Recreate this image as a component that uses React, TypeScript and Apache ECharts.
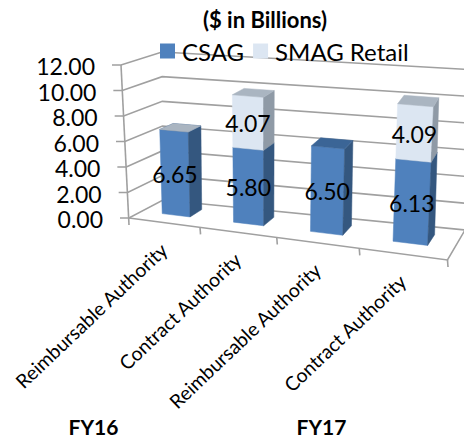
import React, { useEffect, useRef } from "react";
import * as echarts from "echarts";

const categories = ["Reimbursable Authority", "Contract Authority", "Reimbursable Authority", "Contract Authority"];
const csagValues: number[] = [6.65, 5.8, 6.5, 6.13];
const smagValues: (number | null)[] = [0, 4.07, null, 4.09];
const yTicks = [0, 2, 4, 6, 8, 10, 12];
const groupLabels = ["FY16", "FY17"];
const TITLE = "($ in Billions)";
const FONT = "Lato, 'Noto Sans', sans-serif";

// hidden grid that supplies the scales
const GL = 100, GT = 50, GW = 300, GH = 200;
type P = [number, number];
function quad(p0: P, p1: P, p2: P, p3: P) {
  return (u: number, w: number): P => {
    const f = u * (0.856 + 0.144 * u);
    const l: P = [p0[0] + (p3[0] - p0[0]) * w, p0[1] + (p3[1] - p0[1]) * w];
    const r: P = [p1[0] + (p2[0] - p1[0]) * w, p1[1] + (p2[1] - p1[1]) * w];
    return [l[0] + (r[0] - l[0]) * f, l[1] + (r[1] - l[1]) * f];
  };
}
const floorH = quad([129, 218], [447.5, 260], [465, 230], [163, 200]);
const topH = quad([121, 65], [458, 94], [469, 69.5], [162, 52]);
const project = (u: number, v: number, w: number): P => {
  const a = floorH(u, w), b = topH(u, w);
  return [a[0] + (b[0] - a[0]) * v, a[1] + (b[1] - a[1]) * v];
};
const toUV = (px: number[]) => [(px[0] - GL) / GW, (GT + GH - px[1]) / GH];

const BAR_W = 0.05;
const W0 = 0.38, W1 = 0.75;
const GRID = "#a0a0a0";

function barItem(colors: { front: string; side: string; top: string }) {
  return (_: any, api: any) => {
    const i = api.value(0), s = api.value(1), e = api.value(2);
    const u = toUV(api.coord([i, s]))[0];
    const v0 = toUV(api.coord([i, s]))[1], v1 = toUV(api.coord([i, e]))[1];
    const u0 = u - BAR_W, u1 = u + BAR_W;
    const poly = (pts: P[], fill: string) => ({ type: "polygon", shape: { points: pts }, style: { fill, stroke: fill, lineWidth: 0.5 } });
    const children: any[] = [];
    if (e > s) {
      children.push(poly([project(u0, v0, W0), project(u1, v0, W0), project(u1, v1, W0), project(u0, v1, W0)], colors.front));
      children.push(poly([project(u1, v0, W0), project(u1, v0, W1), project(u1, v1, W1), project(u1, v1, W0)], colors.side));
    }
    children.push(poly([project(u0, v1, W0), project(u1, v1, W0), project(u1, v1, W1), project(u0, v1, W1)], colors.top));
    return { type: "group", children };
  };
}

function labelItem(_: any, api: any) {
  const i = api.value(0), s = api.value(1), e = api.value(2);
  const a = toUV(api.coord([i, (s + e) / 2]));
  const c = project(a[0], a[1], W0);
  return {
    type: "text", x: c[0], y: c[1] + 1, z2: 50,
    style: { text: e - s > 0 ? (e - s).toFixed(2) : "", font: `23px ${FONT}`, fill: "#000", align: "center", verticalAlign: "middle" },
  };
}

function wallItem(_: any, api: any) {
  const val = api.value(0);
  const v = toUV(api.coord([0, val]))[1];
  const a = project(0, v, 0), b = project(0, v, 1), c = project(1, v, 1);
  const children: any[] = [
    { type: "polyline", shape: { points: [[a[0] - 9, a[1]], a, b, c] }, style: { stroke: GRID, lineWidth: 1.6, fill: "none" } },
    { type: "text", x: a[0] - 26, y: a[1] + 1, style: { text: val.toFixed(2), font: `23px ${FONT}`, fill: "#000", align: "right", verticalAlign: "middle" } },
  ];
  return { type: "group", children };
}

function floorItem(_: any, api: any) {
  const i = api.value(0);
  const u = toUV(api.coord([i, 0]))[0];
  const band = api.size([1, 0])[0] / GW;
  const tickU = u + band / 2;
  const t = project(tickU, 0, 0);
  const lab = project(u, 0, 0);
  const children: any[] = [
    { type: "line", shape: { x1: t[0], y1: t[1], x2: t[0] + 0.5, y2: t[1] + 7 }, style: { stroke: GRID, lineWidth: 1.6 } },
    { type: "text", x: lab[0], y: lab[1] + 24, rotation: (43.5 * Math.PI) / 180,
      style: { text: categories[i], font: `19.4px ${FONT}`, fill: "#000", align: "right", verticalAlign: "middle" } },
  ];
  if (i === 0) {
    const a = project(0, 0, 0), b = project(0, 1, 0);
    children.push({ type: "line", shape: { x1: a[0], y1: a[1] + 7, x2: b[0], y2: b[1] }, style: { stroke: GRID, lineWidth: 1.6 } });
  }
  if (i === categories.length - 1) {
    const a = project(0, 0, 0), b = project(1, 0, 0), c = project(1, 0, 1);
    children.push({ type: "polyline", shape: { points: [a, b, c] }, style: { stroke: GRID, lineWidth: 1.6, fill: "none" } });
  }
  return { type: "group", children };
}

export default function App() {
  const ref = useRef<HTMLDivElement>(null);
  useEffect(() => {
    document.body.style.margin = "0";
    const chart = echarts.init(ref.current!, null, { renderer: "svg" });
    const csagData = csagValues.map((v, i) => [i, 0, v]);
    const smagData = smagValues.map((v, i) => (v === null ? null : [i, csagValues[i], csagValues[i] + v])).filter(Boolean) as number[][];
    const custom = (extra: any) => ({ type: "custom", coordinateSystem: "cartesian2d", clip: false, silent: true, ...extra });
    chart.setOption({
      animation: false,
      backgroundColor: "#fff",
      title: { text: TITLE, left: 265, top: 8, padding: 0, textAlign: "center", textStyle: { fontFamily: FONT, fontSize: 22, fontWeight: "bold", color: "#000" } },
      legend: {
        left: 160, top: 39, padding: 0, itemWidth: 15, itemHeight: 15, itemGap: 9, selectedMode: false,
        data: [{ name: "CSAG", icon: "rect" }, { name: "SMAG Retail", icon: "rect" }],
        textStyle: { fontFamily: FONT, fontSize: 24, color: "#000", padding: [0, 0, 0, 2] },
      },
      grid: { left: GL, top: GT, width: GW, height: GH, show: false },
      xAxis: { type: "category", data: categories, show: false },
      yAxis: { type: "value", min: 0, max: 12, interval: 2, show: false },
      series: [
        custom({ name: "walls", data: yTicks.map((t) => [t]), encode: { y: 0 }, renderItem: wallItem, z: 1 }),
        custom({ name: "floor", data: categories.map((_, i) => [i]), encode: { x: 0 }, renderItem: floorItem, z: 1 }),
        custom({ name: "CSAG", data: csagData, encode: { x: 0, y: [1, 2] }, itemStyle: { color: "#4f81bd" },
          renderItem: barItem({ front: "#4f81bd", side: "#34577f", top: "#3b6596" }), z: 2 }),
        custom({ name: "SMAG Retail", data: smagData, encode: { x: 0, y: [1, 2] }, itemStyle: { color: "#dce6f2" },
          renderItem: barItem({ front: "#dce6f2", side: "#8f9aa6", top: "#aab5c1" }), z: 3 }),
        custom({ name: "csagLabels", data: csagData, encode: { x: 0, y: [1, 2] }, renderItem: labelItem, z: 5 }),
        custom({ name: "smagLabels", data: smagData, encode: { x: 0, y: [1, 2] }, renderItem: labelItem, z: 5 }),
      ],
      graphic: [
        { type: "text", x: 93.5, y: 426, style: { text: groupLabels[0], font: `bold 21px ${FONT}`, fill: "#000", align: "center", verticalAlign: "middle" } },
        { type: "text", x: 321.5, y: 426, style: { text: groupLabels[1], font: `bold 21px ${FONT}`, fill: "#000", align: "center", verticalAlign: "middle" } },
      ],
    });
    return () => chart.dispose();
  }, []);
  return <div ref={ref} style={{ position: "fixed", left: 0, top: 0, width: 464, height: 437 }} />;
}
